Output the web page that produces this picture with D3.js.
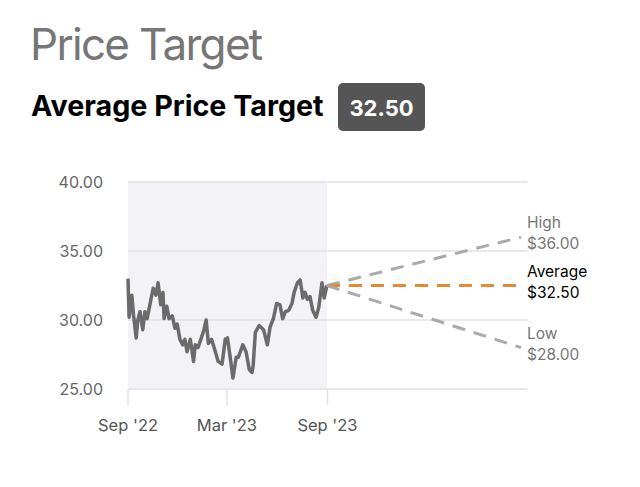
<!DOCTYPE html>
<html>
<head>
<meta charset="utf-8">
<script src="https://cdn.jsdelivr.net/npm/d3@7"></script>
<style>
  body { margin: 0; background: #fff; }
  text { font-family: Inter, "Noto Sans", sans-serif; }
</style>
</head>
<body>
<svg id="chart" width="640" height="487"></svg>
<script>
// price history (approx)
const priceDates = [
  "2022-09-01","2022-09-03","2022-09-08","2022-09-11","2022-09-16","2022-09-19","2022-09-23","2022-09-28",
  "2022-10-02","2022-10-06","2022-10-11","2022-10-17","2022-10-22","2022-10-26","2022-10-31",
  "2022-11-04","2022-11-06","2022-11-11","2022-11-15","2022-11-21","2022-11-26","2022-11-30",
  "2022-12-05","2022-12-10","2022-12-14","2022-12-18","2022-12-24","2022-12-30",
  "2023-01-02","2023-01-07","2023-01-14","2023-01-18","2023-01-22","2023-01-26",
  "2023-02-01","2023-02-07","2023-02-13","2023-02-20","2023-02-26",
  "2023-03-02","2023-03-07","2023-03-12","2023-03-18","2023-03-22","2023-03-30",
  "2023-04-05","2023-04-11","2023-04-16","2023-04-18","2023-04-22","2023-04-29",
  "2023-05-07","2023-05-14","2023-05-19","2023-05-25","2023-05-31",
  "2023-06-06","2023-06-11","2023-06-16","2023-06-22","2023-06-28",
  "2023-07-02","2023-07-08","2023-07-13","2023-07-18","2023-07-22","2023-07-26","2023-07-31",
  "2023-08-05","2023-08-11","2023-08-16","2023-08-22","2023-08-26","2023-08-31"
];
const priceValues = [
  33.0, 30.2, 31.8, 30.4, 28.7, 30.0, 30.6, 29.3,
  30.6, 30.1, 31.1, 32.3, 31.8, 32.7, 31.1,
  32.0, 30.1, 31.0, 30.1, 30.3, 29.4, 29.7,
  28.6, 28.2, 28.6, 27.7, 28.6, 27.0,
  28.2, 28.0, 28.8, 29.3, 30.0, 28.3,
  28.6, 27.8, 27.0, 26.8, 28.6,
  28.7, 27.3, 25.8, 27.3, 27.3, 28.2,
  27.7, 26.4, 26.2, 26.7, 29.1, 29.6,
  29.3, 28.2, 29.5, 30.1, 31.2,
  31.1, 30.1, 30.6, 30.7, 31.2,
  32.0, 32.7, 32.9, 31.6, 32.0, 31.5, 31.7,
  30.7, 30.2, 30.9, 32.7, 31.6, 32.5
];

// analyst targets
const targetNames = ["High", "Average", "Low"];
const targetValues = [36.00, 32.50, 28.00];
const targetDate = "2024-08-20";
const averageTarget = 32.50;

// axis ticks
const yTicks = [25, 30, 35, 40];
const xTickDates = ["2022-09-01", "2023-03-01", "2023-09-01"];
const xTickLabels = ["Sep '22", "Mar '23", "Sep '23"];
const xDomain = ["2022-09-01", "2024-09-01"];

const parse = d3.timeParse("%Y-%m-%d");
const prices = priceDates.map((d, i) => ({ date: parse(d), value: priceValues[i] }));
const lastPrice = prices[prices.length - 1];

const x = d3.scaleTime().domain(xDomain.map(parse)).range([128, 527.5]);
const y = d3.scaleLinear().domain([25, 40]).range([389, 182]);

const svg = d3.select("#chart");

// titles
svg.append("text")
  .attr("x", 30).attr("y", 60)
  .attr("font-size", 44).attr("fill", "#767676")
  .attr("letter-spacing", -1.7)
  .text("Price Target");

svg.append("text")
  .attr("x", 31).attr("y", 116)
  .attr("font-size", 28.7).attr("font-weight", 700).attr("fill", "#000")
  .text("Average Price Target");

svg.append("rect")
  .attr("x", 338).attr("y", 83).attr("width", 87).attr("height", 48)
  .attr("rx", 5).attr("fill", "#555");
svg.append("text")
  .attr("x", 381.5).attr("y", 115.5).attr("text-anchor", "middle")
  .attr("font-size", 22).attr("font-weight", 700).attr("fill", "#fff")
  .text(d3.format(".2f")(averageTarget));

// shaded history area
svg.append("rect")
  .attr("x", x(parse(xTickDates[0])))
  .attr("y", y(40))
  .attr("width", x(lastPrice.date) - x(parse(xTickDates[0])))
  .attr("height", y(25) - y(40))
  .attr("fill", "#f2f2f7");

// grid lines
svg.append("g")
  .selectAll("line")
  .data(yTicks).enter()
  .append("line")
  .attr("x1", x.range()[0]).attr("x2", x.range()[1])
  .attr("y1", d => y(d)).attr("y2", d => y(d))
  .attr("stroke", "#e2e2e6").attr("stroke-width", 1.5);

svg.append("g")
  .selectAll("text")
  .data(yTicks).enter()
  .append("text")
  .attr("x", 103).attr("y", d => y(d) + 6)
  .attr("text-anchor", "end")
  .attr("font-size", 16).attr("fill", "#666")
  .text(d => d3.format(".2f")(d));

// x ticks
svg.append("g")
  .selectAll("line")
  .data(xTickDates).enter()
  .append("line")
  .attr("x1", d => x(parse(d))).attr("x2", d => x(parse(d)))
  .attr("y1", y(25)).attr("y2", y(25) + 16)
  .attr("stroke", "#e2e2e6").attr("stroke-width", 1.5);

svg.append("g")
  .selectAll("text")
  .data(xTickDates).enter()
  .append("text")
  .attr("x", d => x(parse(d))).attr("y", 431)
  .attr("text-anchor", "middle")
  .attr("font-size", 16.5).attr("fill", "#555")
  .text((d, i) => xTickLabels[i]);

// price line
svg.append("path")
  .datum(prices)
  .attr("d", d3.line().x(d => x(d.date)).y(d => y(d.value)))
  .attr("fill", "none")
  .attr("stroke", "#6b6b6b")
  .attr("stroke-width", 3.5)
  .attr("stroke-linejoin", "round");

// target lines
const tx = x(parse(targetDate));
svg.append("g")
  .selectAll("line")
  .data(targetValues).enter()
  .append("line")
  .attr("x1", x(lastPrice.date)).attr("y1", y(lastPrice.value))
  .attr("x2", tx).attr("y2", d => y(d))
  .attr("stroke", (d, i) => targetNames[i] === "Average" ? "#e6892f" : "#aaa")
  .attr("stroke-width", 3)
  .attr("stroke-dasharray", "13,9");

// target labels
const labels = svg.append("g")
  .selectAll("g")
  .data(targetValues).enter()
  .append("g");
labels.append("text")
  .attr("x", 527).attr("y", d => y(d) - 9)
  .attr("font-size", 15.5)
  .attr("fill", (d, i) => targetNames[i] === "Average" ? "#000" : "#777")
  .text((d, i) => targetNames[i]);
labels.append("text")
  .attr("x", 527).attr("y", d => y(d) + 12)
  .attr("font-size", 15.5)
  .attr("fill", (d, i) => targetNames[i] === "Average" ? "#000" : "#777")
  .text(d => "$" + d3.format(".2f")(d));
</script>
</body>
</html>
